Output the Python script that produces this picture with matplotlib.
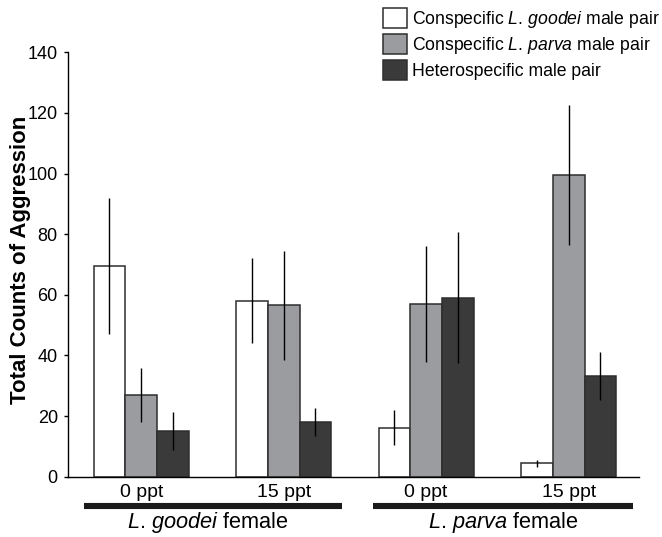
import matplotlib
matplotlib.use("Agg")
import matplotlib.pyplot as plt
import numpy as np
from matplotlib.patches import Patch

plt.rcParams['font.family'] = ['Liberation Sans', 'DejaVu Sans']
plt.rcParams['mathtext.fontset'] = 'custom'
plt.rcParams['mathtext.rm'] = 'Liberation Sans'
plt.rcParams['mathtext.it'] = 'Liberation Sans:italic'

groups = ["0 ppt", "15 ppt", "0 ppt", "15 ppt"]
# "." kept outside math: mathtext pads punctuation with extra space
females = ["$\\it{L}$. $\\it{goodei}$ female", "$\\it{L}$. $\\it{parva}$ female"]
series = ["Conspecific $\\it{L}$. $\\it{goodei}$ male pair",
          "Conspecific $\\it{L}$. $\\it{parva}$ male pair",
          "Heterospecific male pair"]
goodei_pair = [69.5, 58.0, 16.2, 4.4]
goodei_err = [22.3, 14.0, 5.8, 1.2]
parva_pair = [26.9, 56.6, 57.0, 99.5]
parva_err = [8.8, 18.0, 19.2, 23.0]
hetero_pair = [15.0, 18.0, 59.0, 33.2]
hetero_err = [6.2, 4.6, 21.6, 8.0]

colors = ["white", "#9b9ca0", "#3a3a3a"]
EDGE = "#2e2e2e"

fig = plt.figure(figsize=(6.62, 5.37), dpi=100)
ax = fig.add_axes([0.102, 0.1123, 0.864, 0.7903])

x = np.arange(len(groups))
w = 0.223
vals = [goodei_pair, parva_pair, hetero_pair]
errs = [goodei_err, parva_err, hetero_err]
for i, (v, e) in enumerate(zip(vals, errs)):
    ax.bar(x + (i - 1) * w, v, w, color=colors[i], edgecolor=EDGE, lw=1.1,
           yerr=e, error_kw=dict(ecolor="black", elinewidth=1.0, capsize=0),
           zorder=2)

ax.set_xlim(-0.517, 3.497)
ax.set_ylim(0, 140)
ax.set_yticks(range(0, 141, 20))
ax.set_xticks(x)
ax.set_xticklabels(groups)
ax.tick_params(axis="x", length=0, labelsize=14, pad=5)
ax.tick_params(axis="y", length=3, width=1, labelsize=13, pad=4)
for s in ["top", "right"]:
    ax.spines[s].set_visible(False)
for s in ["left", "bottom"]:
    ax.spines[s].set_linewidth(1.0)
ax.set_ylabel("Total Counts of Aggression", fontsize=16, fontweight="bold",
              va="center")
ax.yaxis.set_label_coords(-0.083, 0.511)

# female grouping bars under the axis
trans = ax.get_xaxis_transform()
bar_start = [-0.40, -0.37]
bar_end = [0.41, 0.45]
label_shift = [-0.035, 0.04]
for k, f in enumerate(females):
    x0 = x[2 * k] + bar_start[k]
    x1 = x[2 * k + 1] + bar_end[k]
    ax.plot([x0, x1], [-0.0684, -0.0684], transform=trans, color="#1a1a1a",
            lw=4.4, solid_capstyle="butt", clip_on=False)
    ax.text((x[2 * k] + x[2 * k + 1]) / 2 + label_shift[k], -0.121, f,
            transform=trans, ha="center", va="baseline", fontsize=15.7)

handles = [Patch(fc=c, ec=EDGE, lw=1.1) for c in colors]
fig.legend(handles, series, loc="upper left", bbox_to_anchor=(383 / 662, 1 - 8 / 537),
           frameon=False, fontsize=12.7, handlelength=1.36, handleheight=1.35,
           handletextpad=0.28, labelspacing=0.25, borderpad=0, borderaxespad=0)

fig.savefig("out.png", dpi=100, facecolor="white")
